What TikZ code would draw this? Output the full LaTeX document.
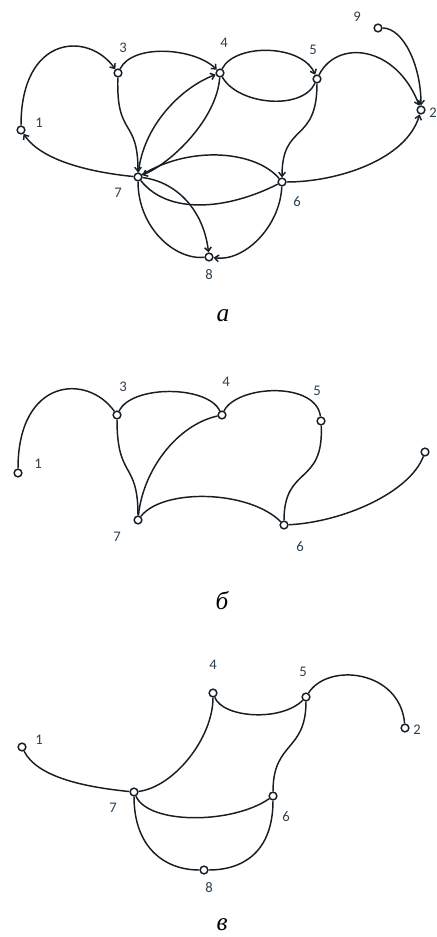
\documentclass[tikz,border=0pt]{standalone}
\usepackage{fontspec}
\setmainfont{Liberation Serif}
\newfontfamily\lblfont{Carlito}
\usetikzlibrary{arrows.meta}
\definecolor{ink}{RGB}{22,30,36}
\definecolor{lbl}{RGB}{44,64,80}
\begin{document}
\begin{tikzpicture}[x=0.75pt,y=-0.75pt,
  vtx/.style={circle,draw=ink,fill=white,line width=1.1pt,inner sep=0pt,minimum size=5.8pt},
  lab/.style={text=lbl,font=\lblfont\fontsize{11}{12}\selectfont,inner sep=0pt},
  captxt/.style={font=\itshape\fontsize{19}{22}\selectfont,inner sep=0pt},
  conn/.style={draw=ink,line width=1.1pt},
  arr/.style={conn,-{Straight Barb[length=3pt,width=5pt]}}]
\useasboundingbox (0,0) rectangle (436,937);
% ---------- part a ----------
\node[vtx] (a1) at (21,130) {};
\node[vtx] (a3) at (118,73) {};
\node[vtx] (a4) at (220,73) {};
\node[vtx] (a5) at (317,79) {};
\node[vtx] (a2) at (421,110) {};
\node[vtx] (a9) at (378,28) {};
\node[vtx] (a7) at (138,177) {};
\node[vtx] (a6) at (282,182) {};
\node[vtx] (a8) at (209,257) {};
\node[lab] (la1) at (39,123) {1};
\node[lab] (la3) at (123,48) {3};
\node[lab] (la4) at (224,43) {4};
\node[lab] (la5) at (313,50) {5};
\node[lab] (la2) at (433,113) {2};
\node[lab] (la9) at (357,17) {9};
\node[lab] (la7) at (118,193) {7};
\node[lab] (la6) at (297,202) {6};
\node[lab] (la8) at (209,275) {8};
\node[captxt] (capa) at (223,316) {а};
\draw[arr] (a1) .. controls +(0,-95) and +(-30,-42) .. (a3);
\draw[arr] (a3) .. controls +(15,-30) and +(-25,-25) .. (a4);
\draw[arr] (a3) .. controls +(-2,65) and +(0,-60) .. (a7);
\draw[arr] (a4) .. controls +(15,-30) and +(-15,-35) .. (a5);
\draw[conn] (a5) .. controls +(-15,32) and +(18,32) .. (a4);
\draw[arr] (a5) .. controls +(20,-40) and +(-25,-65) .. (a2);
\draw[arr] (a9) .. controls +(25,0) and +(0,-45) .. (a2);
\draw[arr] (a5) .. controls +(0,65) and +(0,-60) .. (a6);
\draw[arr] (a6) .. controls +(55,0) and +(-15,50) .. (a2);
\draw[arr] (a7) .. controls +(-50,-5) and +(20,30) .. (a1);
\draw[arr] (a7) .. controls +(5,-50) and +(-40,15) .. (a4);
\draw[arr] (a4) .. controls +(-3,45) and +(35,-15) .. (a7);
\draw[conn] (a6) .. controls +(-25,-30) and +(55,-33) .. (a7);
\draw[conn] (a7) .. controls +(30,38) and +(-55,28) .. (a6);
\draw[arr] (a7) .. controls +(40,5) and +(-5,-45) .. (a8);
\draw[conn] (a7) .. controls +(0,50) and +(-35,3) .. (a8);
\draw[arr] (a6) .. controls +(-2,45) and +(35,5) .. (a8);
% ---------- part b ----------
\node[vtx] (b1) at (18,473) {};
\node[vtx] (b3) at (117,415) {};
\node[vtx] (b4) at (222,415) {};
\node[vtx] (b5) at (321,421) {};
\node[vtx] (bR) at (425,452) {};
\node[vtx] (b7) at (138,520) {};
\node[vtx] (b6) at (284,525) {};
\node[lab] (lb1) at (38,464) {1};
\node[lab] (lb3) at (123,387) {3};
\node[lab] (lb4) at (226,382) {4};
\node[lab] (lb5) at (317,391) {5};
\node[lab] (lb7) at (117,537) {7};
\node[lab] (lb6) at (300,547) {6};
\node[captxt] (capb) at (222,601) {б};
\draw[conn] (b1) .. controls +(0,-95) and +(-30,-42) .. (b3);
\draw[conn] (b3) .. controls +(15,-30) and +(-15,-30) .. (b4);
\draw[conn] (b4) .. controls +(15,-30) and +(-5,-40) .. (b5);
\draw[conn] (b3) .. controls +(0,65) and +(0,-60) .. (b7);
\draw[conn] (b4) .. controls +(-45,10) and +(5,-50) .. (b7);
\draw[conn] (b5) .. controls +(3,65) and +(0,-60) .. (b6);
\draw[conn] (b7) .. controls +(25,-32) and +(-35,-35) .. (b6);
\draw[conn] (b6) .. controls +(60,-3) and +(-15,40) .. (bR);
% ---------- part c ----------
\node[vtx] (c1) at (22,747) {};
\node[vtx] (c4) at (213,693) {};
\node[vtx] (c5) at (306,697) {};
\node[vtx] (c2) at (405,728) {};
\node[vtx] (c7) at (134,792) {};
\node[vtx] (c6) at (273,796) {};
\node[vtx] (c8) at (204,870) {};
\node[lab] (lc1) at (39,740) {1};
\node[lab] (lc4) at (213,665) {4};
\node[lab] (lc5) at (303,672) {5};
\node[lab] (lc2) at (417,730) {2};
\node[lab] (lc7) at (113,808) {7};
\node[lab] (lc6) at (286,817) {6};
\node[lab] (lc8) at (209,888) {8};
\node[captxt] (capc) at (222,925) {в};
\draw[conn] (c1) .. controls +(15,30) and +(-50,-5) .. (c7);
\draw[conn] (c7) .. controls +(40,-5) and +(0,45) .. (c4);
\draw[conn] (c4) .. controls +(10,25) and +(-25,25) .. (c5);
\draw[conn] (c5) .. controls +(22,-35) and +(-5,-58) .. (c2);
\draw[conn] (c5) .. controls +(0,55) and +(0,-55) .. (c6);
\draw[conn] (c7) .. controls +(15,33) and +(-40,28) .. (c6);
\draw[conn] (c7) .. controls +(0,55) and +(-40,0) .. (c8);
\draw[conn] (c8) .. controls +(40,0) and +(0,55) .. (c6);
\end{tikzpicture}
\end{document}
